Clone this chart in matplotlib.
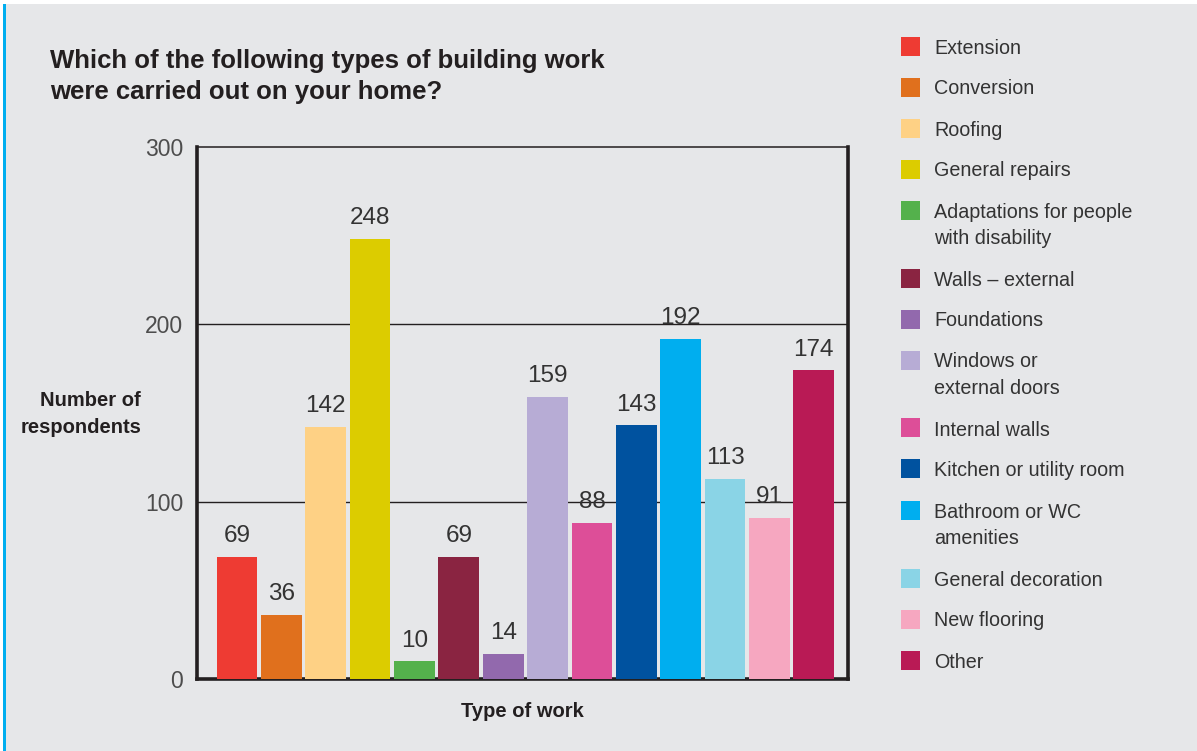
"""
Bar chart: types of building work carried out on respondents' homes.

Output:
- out.png
"""

import matplotlib

matplotlib.use("Agg")
import matplotlib.pyplot as plt
from matplotlib.patches import Rectangle


work_types = [
    "Extension",
    "Conversion",
    "Roofing",
    "General repairs",
    "Adaptations for people\nwith disability",
    "Walls \u2013 external",
    "Foundations",
    "Windows or\nexternal doors",
    "Internal walls",
    "Kitchen or utility room",
    "Bathroom or WC\namenities",
    "General decoration",
    "New flooring",
    "Other",
]
respondents = [69, 36, 142, 248, 10, 69, 14, 159, 88, 143, 192, 113, 91, 174]
bar_colors = [
    "#ee3b33", "#e0701d", "#fed185", "#dccc00", "#54b14c", "#8a2441", "#9269ad",
    "#b7acd5", "#dd4e98", "#00529f", "#00aeef", "#8ad4e6", "#f6a7c0", "#b91a55",
]
y_ticks = [0, 100, 200, 300]

BG = "#e6e7e9"
INK = "#231f20"
FONT = ["Liberation Sans", "DejaVu Sans"]

W, H = 1197, 751


def fx(px):
    return px / W


def fy(py):
    return 1 - py / H


def main():
    plt.rcParams["font.family"] = FONT
    fig = plt.figure(figsize=(W / 100, H / 100), dpi=100, facecolor=BG)

    # white margin on top/left and the blue rule down the left edge
    fig.patches.append(Rectangle((0, fy(4)), 1, 1 - fy(4), transform=fig.transFigure,
                                 facecolor="white", edgecolor="none", zorder=-2))
    fig.patches.append(Rectangle((0, 0), fx(3), 1, transform=fig.transFigure,
                                 facecolor="white", edgecolor="none", zorder=-2))
    fig.patches.append(Rectangle((fx(3), 0), fx(2.5), fy(4), transform=fig.transFigure,
                                 facecolor="#00aeef", edgecolor="none", zorder=-1))

    ax = fig.add_axes([fx(197), fy(679), fx(848) - fx(197), fy(147) - fy(679)])
    ax.set_facecolor(BG)

    x = list(range(len(respondents)))
    ax.bar(x, respondents, width=0.92, color=bar_colors, zorder=3)
    for i, v in enumerate(respondents):
        ax.annotate(f"{v}", (i, v), xytext=(0, 7), textcoords="offset points",
                    ha="center", va="bottom", fontsize=17.5, color="#333333", zorder=4)

    ax.set_xlim(-0.9, len(respondents) - 1 + 0.77)
    ax.set_ylim(0, 300)
    ax.set_xticks([])
    ax.set_yticks(y_ticks)
    ax.tick_params(axis="y", length=0, pad=10, labelsize=16.5, labelcolor="#4d4d4d")
    for t in y_ticks[1:-1]:
        ax.axhline(t, color=INK, linewidth=1.0, zorder=1)

    for side in ["left", "bottom", "right"]:
        ax.spines[side].set_linewidth(2.6)
        ax.spines[side].set_color(INK)
    ax.spines["top"].set_linewidth(1.1)
    ax.spines["top"].set_color(INK)
    ax.spines["bottom"].set_zorder(2)

    fig.text(fx(50), fy(68), "Which of the following types of building work", fontsize=18.5,
             fontweight="bold", color=INK, va="baseline")
    fig.text(fx(50), fy(99), "were carried out on your home?", fontsize=18.5,
             fontweight="bold", color=INK, va="baseline")

    fig.text(fx(141), fy(406), "Number of", fontsize=14.5, fontweight="bold", color=INK,
             ha="right", va="baseline")
    fig.text(fx(141), fy(433), "respondents", fontsize=14.5, fontweight="bold", color=INK,
             ha="right", va="baseline")
    fig.text(fx(522.5), fy(717), "Type of work", fontsize=14.5, fontweight="bold", color=INK,
             ha="center", va="baseline")

    # legend built by hand so wrapped labels keep their own line spacing
    row_y = 46
    for label, color in zip(work_types, bar_colors):
        fig.patches.append(Rectangle((fx(901), fy(row_y + 9.5)), fx(19), fy(0) - fy(19),
                                     transform=fig.transFigure, facecolor=color,
                                     edgecolor="none", zorder=2))
        lines = label.split("\n")
        for k, line in enumerate(lines):
            fig.text(fx(934), fy(row_y + 7.5 + 27 * k), line, fontsize=14.2, color="#333333",
                     va="baseline")
        row_y += 41 + 27 * (len(lines) - 1)

    fig.savefig("out.png", dpi=100, facecolor=fig.get_facecolor())
    plt.close(fig)


if __name__ == "__main__":
    main()
